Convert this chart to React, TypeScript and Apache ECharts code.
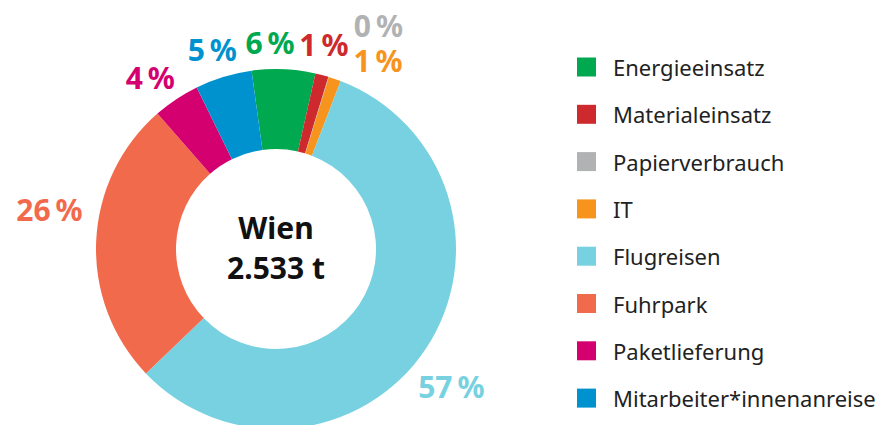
import React, { useEffect, useRef } from "react";
import * as echarts from "echarts";

const categories = [
  "Energieeinsatz",
  "Materialeinsatz",
  "Papierverbrauch",
  "IT",
  "Flugreisen",
  "Fuhrpark",
  "Paketlieferung",
  "Mitarbeiter*innenanreise",
];
// emissions in tonnes CO2 (Wien, total 2.533 t)
const tonnes = [144, 30, 1, 28, 1444, 651, 106, 129];
const colors = ["#00A84F", "#CE2A2E", "#B1B2B4", "#F7941D", "#78D1E0", "#F26A4C", "#D5006F", "#0092CF"];
const centerTitle = "Wien";
const centerTotal = "2.533 t";

const FONT = "'Noto Sans', 'Open Sans', sans-serif";

export default function App() {
  const ref = useRef<HTMLDivElement>(null);
  useEffect(() => {
    if (!ref.current) return;
    const chart = echarts.init(ref.current, null, { renderer: "svg" });

    const CX = 276;
    const CY = 249;
    const START = 97.8; // echarts startAngle (deg, ccw from 3 o'clock)
    // label placement tweaks: angular shift from slice mid (deg, clockwise) and distance from centre
    const labelShift = [-4.1, -1.6, 7.6, 9.4, 4.5, 7.4, -2.5, -0.8];
    const labelDist = [207, 210, 246, 214, 223, 230, 213, 209];
    const total = tonnes.reduce((a, b) => a + b, 0);
    const midAngles: number[] = [];
    let acc = 0;
    tonnes.forEach((v) => {
      midAngles.push((90 - START) + ((acc + v / 2) / total) * 360);
      acc += v;
    });

    chart.setOption({
      animation: false,
      backgroundColor: "#ffffff",
      legend: {
        orient: "vertical",
        left: 577,
        top: 56,
        height: 400,
        padding: 0,
        itemWidth: 19,
        itemHeight: 19,
        itemGap: 25.3,
        icon: "rect",
        selectedMode: false,
        textStyle: {
          fontFamily: FONT,
          fontSize: 22,
          color: "#222222",
          padding: [0, 0, 0, 12],
        },
        data: categories,
      },
      graphic: [
        {
          type: "text",
          x: CX,
          y: 227,
          style: {
            text: centerTitle,
            align: "center",
            verticalAlign: "middle",
            font: `bold 30px ${FONT}`,
            fill: "#111111",
          },
        },
        {
          type: "text",
          x: CX,
          y: 267,
          style: {
            text: centerTotal,
            align: "center",
            verticalAlign: "middle",
            font: `bold 30px ${FONT}`,
            fill: "#111111",
          },
        },
      ],
      series: [
        {
          type: "pie",
          center: [CX, CY],
          radius: [100, 180],
          startAngle: START,
          clockwise: true,
          avoidLabelOverlap: false,
          label: {
            show: true,
            position: "outside",
            fontFamily: FONT,
            fontSize: 30,
            lineHeight: 32,
            fontWeight: "bold",
            formatter: (p: any) => `${Math.round(p.percent)}\u2009%`,
          },
          labelLine: { show: false, length: 12, length2: 0 },
          labelLayout: (p: any) => {
            const i = p.dataIndex;
            const a = ((midAngles[i] + labelShift[i]) * Math.PI) / 180;
            return {
              x: CX + labelDist[i] * Math.sin(a),
              y: CY - labelDist[i] * Math.cos(a),
              align: "center",
              verticalAlign: "middle",
            };
          },
          emphasis: { disabled: true },
          data: categories.map((name, i) => ({
            name,
            value: tonnes[i],
            itemStyle: { color: colors[i] },
            label: { color: colors[i] },
          })),
        },
      ],
    });
    return () => chart.dispose();
  }, []);
  return <div ref={ref} style={{ position: "fixed", left: 0, top: 0, width: 881, height: 425 }} />;
}
